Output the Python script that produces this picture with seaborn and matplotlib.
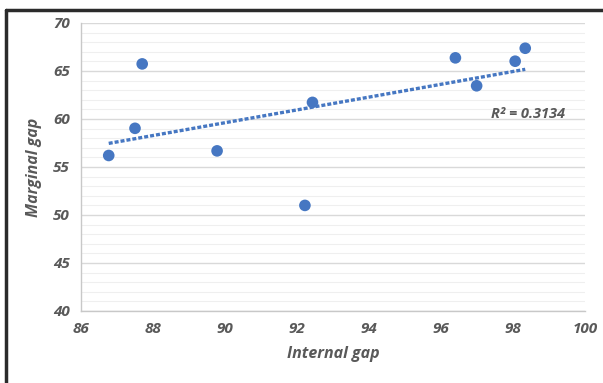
import matplotlib
matplotlib.use("Agg")
import matplotlib.pyplot as plt
import seaborn as sns
import numpy as np
import pandas as pd
from matplotlib.lines import Line2D
from matplotlib.ticker import MultipleLocator

internal_gap = [86.77, 87.50, 87.70, 89.78, 92.22, 92.43, 96.40, 96.99, 98.06, 98.34]
marginal_gap = [56.2, 59.03, 65.74, 56.68, 51.0, 61.73, 66.37, 63.46, 66.02, 67.37]
r2_label = "R² = 0.3134"
x_ticks = [86, 88, 90, 92, 94, 96, 98, 100]
y_ticks = [40, 45, 50, 55, 60, 65, 70]

df = pd.DataFrame({"Internal gap": internal_gap, "Marginal gap": marginal_gap})

sns.set_style("white")
plt.rcParams["font.family"] = ["Open Sans", "DejaVu Sans"]
plt.rcParams["font.style"] = "italic"
plt.rcParams["font.weight"] = "bold"
plt.rcParams["axes.labelweight"] = "bold"

fig = plt.figure(figsize=(6.03, 3.83), dpi=100)
ax = fig.add_axes([81/603, 1-311/383, 504/603, 288/383])

blue = "#4677c2"
gray_txt = "#595959"

# trend line
coef = np.polyfit(df["Internal gap"], df["Marginal gap"], 1)
xs = np.array([min(internal_gap), max(internal_gap)])
ax.plot(xs, np.polyval(coef, xs), color=blue, lw=2.4, ls=(0, (1.2, 0.6)), zorder=2)

sns.scatterplot(data=df, x="Internal gap", y="Marginal gap", ax=ax, color=blue,
                s=70, edgecolor="none", zorder=3)

ax.set_xlim(86, 100)
ax.set_ylim(40, 70)
ax.set_xticks(x_ticks)
ax.set_yticks(y_ticks)
ax.yaxis.set_minor_locator(MultipleLocator(1))
ax.grid(which="major", axis="y", color="#d9d9d9", lw=1.0, zorder=0)
ax.grid(which="minor", axis="y", color="#efefef", lw=0.8, zorder=0)
ax.set_axisbelow(True)

for s in ["top", "right"]:
    ax.spines[s].set_visible(False)
for s in ["left", "bottom"]:
    ax.spines[s].set_color("#c8c8c8")
    ax.spines[s].set_linewidth(1.0)

ax.tick_params(axis="both", which="major", direction="out", length=4, width=1,
               color="#c8c8c8", labelcolor=gray_txt, labelsize=11)
ax.tick_params(axis="y", which="minor", length=0)
ax.tick_params(axis="x", pad=4)
ax.tick_params(axis="y", pad=4)

ax.set_xlabel("Internal gap", fontsize=11.5, fontweight="bold", color=gray_txt, labelpad=7)
ax.set_ylabel("Marginal gap", fontsize=11.5, fontweight="bold", color=gray_txt, labelpad=8)

ax.text(97.39, 60.5, r2_label, fontsize=10.5, fontweight="bold", color=gray_txt,
        ha="left", va="center")

# image frame lines (top and left)
fig.add_artist(Line2D([6/603, 1], [1-9.5/383, 1-9.5/383], color="#2b2b2b", lw=2.5,
                      transform=fig.transFigure))
fig.add_artist(Line2D([6/603, 6/603], [0, 1-9.5/383], color="#2b2b2b", lw=2.5,
                      transform=fig.transFigure))

fig.savefig("out.png", dpi=100)
